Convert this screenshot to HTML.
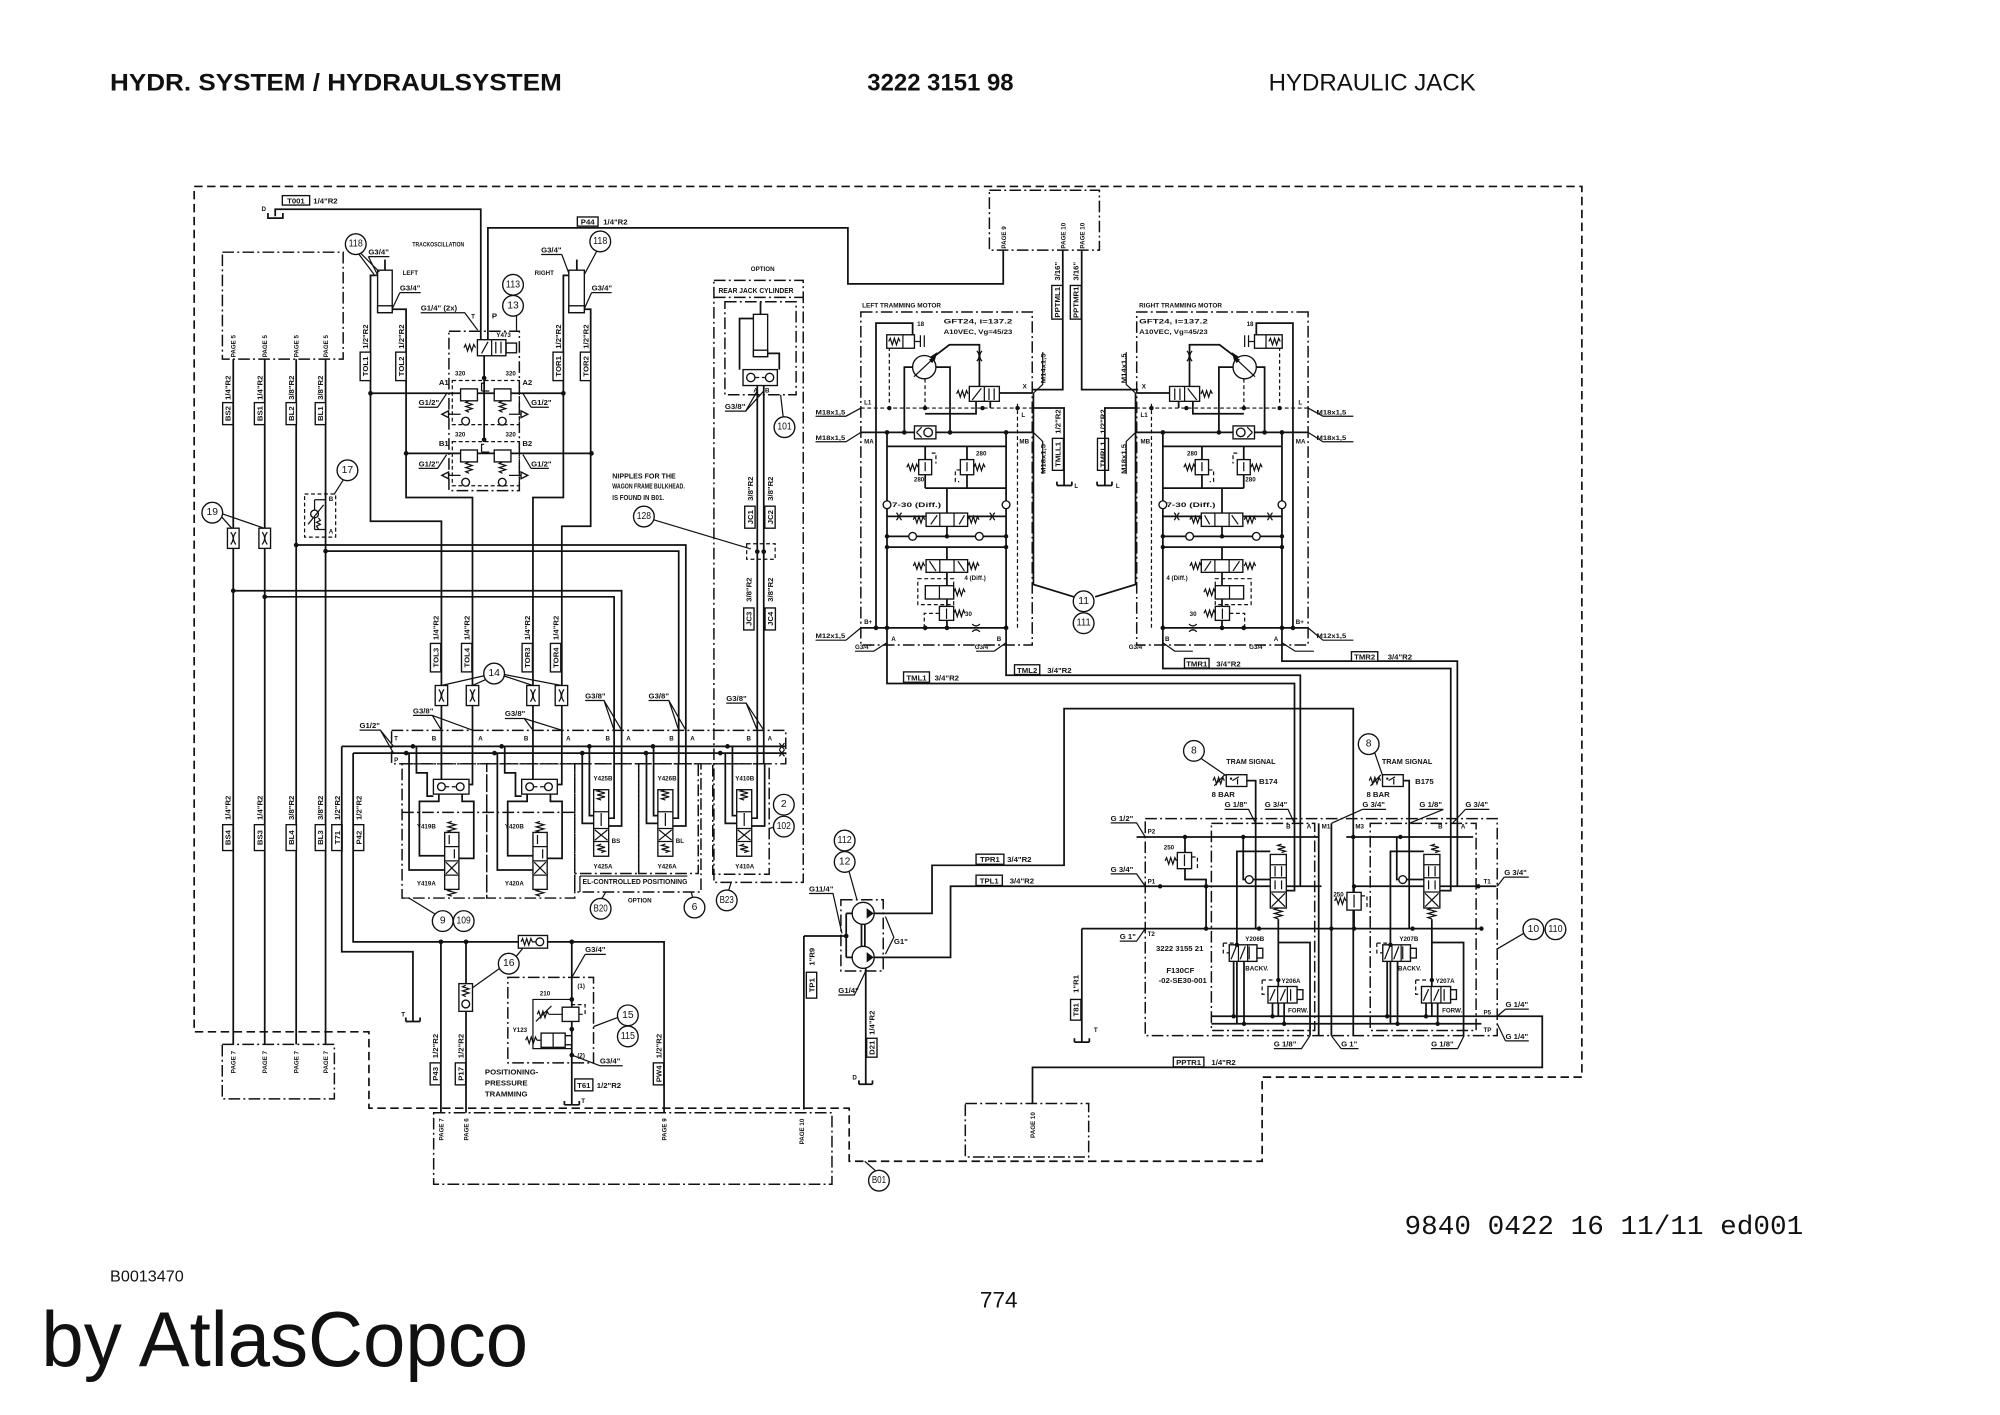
<!DOCTYPE html>
<html><head><meta charset="utf-8"><title>Hydraulic Jack</title>
<style>
html,body{margin:0;padding:0;background:#fff}
svg{display:block}
.l{fill:none;stroke:#111;stroke-width:1.35}
.t{fill:none;stroke:#111;stroke-width:0.95}
.d{fill:none;stroke:#111;stroke-width:1.3;stroke-dasharray:6.5 3.5}
.dd{fill:none;stroke:#111;stroke-width:1.15;stroke-dasharray:9 2.5 1.5 2.5}
.ds{fill:none;stroke:#111;stroke-width:0.95;stroke-dasharray:3 2}
.f{fill:#111;stroke:none}
.w{fill:#fff;stroke:#111;stroke-width:1.05}
text{font-family:"Liberation Sans",Arial,sans-serif;fill:#111}
.s{font-size:6px;font-weight:bold}
.xs{font-size:4.8px;font-weight:bold}
.c{font-size:8px;text-anchor:middle;dominant-baseline:central}
.m{text-anchor:middle}
</style></head><body>
<svg width="2000" height="1415" viewBox="0 0 1545 1093" preserveAspectRatio="none" xmlns="http://www.w3.org/2000/svg">
<rect x="0" y="0" width="1545" height="1093" fill="#fff"/>

<!-- ===== HEADER / FOOTER ===== -->
<text x="85" y="70" font-size="18.5" font-weight="bold" textLength="349" lengthAdjust="spacingAndGlyphs">HYDR. SYSTEM / HYDRAULSYSTEM</text>
<text x="670" y="70" font-size="18.5" font-weight="bold" textLength="113" lengthAdjust="spacingAndGlyphs">3222 3151 98</text>
<text x="980" y="70" font-size="18.5" textLength="160" lengthAdjust="spacingAndGlyphs">HYDRAULIC JACK</text>
<text x="1085" y="953" style="font-family:'Liberation Mono',monospace;font-size:21px" textLength="308" lengthAdjust="spacingAndGlyphs">9840 0422 16 11/11 ed001</text>
<text x="85" y="990" font-size="12" textLength="57" lengthAdjust="spacingAndGlyphs">B0013470</text>
<text x="757" y="1010" font-size="17" textLength="29" lengthAdjust="spacingAndGlyphs">774</text>
<text x="32" y="1055" font-size="60" textLength="376" lengthAdjust="spacingAndGlyphs">by AtlasCopco</text>

<!-- ===== OUTER BORDERS ===== -->
<path class="d" d="M150,144 H1222 V832 H975 V897 H656 V856 H285 V797 H150 Z"/>
<rect class="dd" x="764.3" y="147" width="85" height="46.2"/>
<rect class="dd" x="171.8" y="194.8" width="93.3" height="82.6"/>
<rect class="dd" x="171.7" y="806.7" width="86.6" height="42.1"/>
<rect class="dd" x="335" y="859.5" width="307.7" height="55.3"/>
<rect class="dd" x="745.7" y="852.4" width="95.3" height="41.3"/>

<!-- page labels -->
<g class="xs">
<text transform="translate(182,276) rotate(-90)">PAGE 5</text>
<text transform="translate(206.3,276) rotate(-90)">PAGE 5</text>
<text transform="translate(230.6,276) rotate(-90)">PAGE 5</text>
<text transform="translate(253.3,276) rotate(-90)">PAGE 5</text>
<text transform="translate(182,829) rotate(-90)">PAGE 7</text>
<text transform="translate(206.3,829) rotate(-90)">PAGE 7</text>
<text transform="translate(230.6,829) rotate(-90)">PAGE 7</text>
<text transform="translate(253.3,829) rotate(-90)">PAGE 7</text>
<text transform="translate(342.5,881) rotate(-90)">PAGE 7</text>
<text transform="translate(362,881) rotate(-90)">PAGE 6</text>
<text transform="translate(514.8,881) rotate(-90)">PAGE 9</text>
<text transform="translate(621,884) rotate(-90)">PAGE 10</text>
<text transform="translate(777,192) rotate(-90)">PAGE 9</text>
<text transform="translate(823,192) rotate(-90)">PAGE 10</text>
<text transform="translate(837.6,192) rotate(-90)">PAGE 10</text>
<text transform="translate(799.6,879) rotate(-90)">PAGE 10</text>
</g>

<!-- ===== TOP LEFT: T001, P44 ===== -->
<path class="l" d="M212.6,167 V161.6 H371.4 V262.4"/>
<path class="l" d="M207,164.5 V168.5 H218.5 V164.5"/>
<text class="xs" x="202" y="163">D</text>
<rect class="w" x="218.1" y="151.1" width="21.1" height="7.3"/>
<text class="s m" x="228.6" y="157.3">T001</text>
<text class="s" x="242" y="157.3">1/4&quot;R2</text>
<path class="l" d="M376.9,262.4 V176 H655 V219.3 H775 V193.2"/>
<rect class="w" x="446" y="167.6" width="16" height="7.1"/>
<text class="s m" x="454" y="173.6">P44</text>
<text class="s" x="466" y="173.6">1/4&quot;R2</text>

<!-- ===== TRACK OSCILLATION ===== -->
<text class="xs" x="318.6" y="190.5" textLength="40" lengthAdjust="spacingAndGlyphs">TRACKOSCILLATION</text>
<text class="xs" x="311" y="212.5">LEFT</text>
<text class="xs" x="413" y="212.5">RIGHT</text>
<path class="l" d="M297.4,200.5 V208.7"/>
<rect class="w" x="291.7" y="208.7" width="11.3" height="32.8"/>
<rect class="w" x="291.7" y="236.2" width="11.3" height="5.3"/>
<path class="l" d="M445.6,200.5 V208.7"/>
<rect class="w" x="439.4" y="208.7" width="12" height="32.8"/>
<rect class="w" x="439.4" y="236.2" width="12" height="5.3"/>
<g class="s">
<text x="284.6" y="196.5">G3/4&quot;</text>
<text x="308.9" y="224.5">G3/4&quot;</text>
<text x="418" y="195">G3/4&quot;</text>
<text x="457" y="224.5">G3/4&quot;</text>
</g>
<path class="t" d="M284.6,198.2 H300.8 M284.6,198.2 L292,213 M308.9,226 H325 M308.9,226 L303,238.5 M418,196.6 H434 M434,196.6 L439.4,211 M457,226 H472.5 M457,226 L451.4,238.5"/>
<path class="t" d="M277,196 L289,212 M279,196 L293,210 M461,194 L451.4,212"/>
<path class="l" d="M291.7,212.7 H286.2 V402.6 H341 V601.7"/>
<path class="l" d="M303,238.9 H313.7 V384.3 H365 V606 H360"/>
<path class="l" d="M439.4,212.7 H435.2 V384.3 H411.7 V601.7"/>
<path class="l" d="M451.4,238.9 H456.3 V406.5 H434 V606 H428"/>

<!-- Y473 valve block -->
<rect class="dd" x="346.8" y="255.9" width="54.4" height="123.1"/>
<rect class="w" x="368.8" y="262.4" width="22" height="12.4"/>
<path class="t" d="M379.8,262.4 V274.8 M372,273 L377,264 M383,264 V273 M387,264 V273"/>
<rect class="w" x="391" y="265" width="8" height="7.5"/>
<path class="t" d="M358.4,268.6 l1.2,-2.5 l1.6,5 l1.6,-5 l1.6,5 l1.6,-5 l1.4,2.5"/>
<text class="xs" x="383.4" y="260.5">Y473</text>
<text class="s" x="325" y="240">G1/4&quot; (2x)</text>
<path class="t" d="M325,241.6 H359 L369,255"/>
<text class="xs" x="364" y="246">T</text>
<text class="s" x="380" y="246">P</text>
<path class="l" d="M374,274.8 V339.7"/>
<circle class="f" cx="374" cy="292" r="1.8"/><circle class="f" cx="374" cy="339.7" r="1.8"/>
<path class="l" d="M286.2,303.8 H435.2 M313.7,350.2 H456.9"/>
<circle class="f" cx="286.2" cy="303.8" r="1.8"/><circle class="f" cx="435.2" cy="303.8" r="1.8"/>
<circle class="f" cx="313.7" cy="350.2" r="1.8"/><circle class="f" cx="456.9" cy="350.2" r="1.8"/>
<g id="cb">
<rect class="ds" x="349.4" y="293.9" width="51.8" height="34.1"/>
<rect class="w" x="355.8" y="300.4" width="13" height="9.2"/>
<rect class="w" x="381.8" y="300.4" width="12.9" height="9.2"/>
<path class="t" d="M362.3,309.6 l-2.5,1.2 l5,1.6 l-5,1.6 l5,1.6 l-5,1.6 l2.5,1.2 M388.2,309.6 l-2.5,1.2 l5,1.6 l-5,1.6 l5,1.6 l-5,1.6 l2.5,1.2"/>
<circle class="w" cx="359.7" cy="325.3" r="3"/><circle class="w" cx="388" cy="325.3" r="3"/>
<polygon class="w" points="341.3,320 346.5,317.4 346.5,322.6"/>
<polygon class="w" points="407.7,320 402.5,317.4 402.5,322.6"/>
<path class="t" d="M346.5,320 H355.8 M393.2,320 H402.5 M372,302 H378 M372,302 V296 H374"/>
<text class="xs" x="351.5" y="290">320</text><text class="xs" x="390.5" y="290">320</text>
<text class="s" x="323.4" y="313">G1/2&quot;</text><text class="s" x="410.3" y="313">G1/2&quot;</text>
<path class="t" d="M323.4,314.6 H338 L345,304 M410.3,314.6 H424 M410.3,314.6 L404,304"/>
</g>
<use href="#cb" transform="translate(0,47.2)"/>
<g class="s"><text x="339" y="297.5">A1</text><text x="403.5" y="297.5">A2</text><text x="339" y="344.7">B1</text><text x="403.5" y="344.7">B2</text></g>

<g>
<circle class="w" cx="274.8" cy="188.6" r="8"/><text class="c" x="274.8" y="188.6" textLength="11" lengthAdjust="spacingAndGlyphs">118</text>
<circle class="w" cx="463.7" cy="186.5" r="8"/><text class="c" x="463.7" y="186.5" textLength="11" lengthAdjust="spacingAndGlyphs">118</text>
<circle class="w" cx="396.3" cy="220" r="8"/><text class="c" x="396.3" y="220" textLength="11" lengthAdjust="spacingAndGlyphs">113</text>
<circle class="w" cx="396.3" cy="236.2" r="8"/><text class="c" x="396.3" y="236.2">13</text>
</g>
<path class="t" d="M399,244 V256"/>

<path class="l" d="M180.2,277.4 V806.7 M204.5,277.4 V806.7 M228.8,277.4 V806.7 M251.5,277.4 V806.7"/>
<path class="l" d="M228.8,421 H529.8 V590 M251.5,425.7 H524.3 V590 M180.2,456.3 H480.2 V590 M204.5,461 H474.4 V590"/>
<circle class="f" cx="228.8" cy="421" r="1.8"/><circle class="f" cx="251.5" cy="425.7" r="1.8"/>
<circle class="f" cx="180.2" cy="456.3" r="1.8"/><circle class="f" cx="204.5" cy="461" r="1.8"/>

<rect class="w" x="175.7" y="408" width="9" height="15.6"/>
<rect class="w" x="200" y="408" width="9" height="15.6"/>
<path class="t" d="M178.2,411 Q182,415.8 178.2,420.6 M182.2,411 Q178.4,415.8 182.2,420.6 M202.5,411 Q206.3,415.8 202.5,420.6 M206.5,411 Q202.7,415.8 206.5,420.6"/>
<circle class="w" cx="164" cy="396" r="8"/><text class="c" x="164" y="396">19</text>
<path class="t" d="M171,399 L179,408 M172,397 L204,408"/>
<rect class="ds" x="235.3" y="381.6" width="24" height="33.3"/>
<circle class="w" cx="243" cy="397" r="3"/>
<path class="t" d="M243,386 V394 M243,400 V409 M243,386 H251.5 M243,409 H251.5 M246,400 l1.5,2 l-3,1.5 l3,1.5 l-3,1.5 l1.5,2 M238,405 L250,390"/>
<text class="xs" x="254" y="387">B</text><text class="xs" x="254" y="412">A</text>
<circle class="w" cx="268.4" cy="363.3" r="8"/><text class="c" x="268.4" y="363.3">17</text>
<path class="t" d="M265,371 L258,382"/>

<!-- ===== REAR JACK CYLINDER ===== -->
<text class="xs" x="580" y="209.5">OPTION</text>
<rect class="dd" x="551.5" y="216.6" width="69" height="465"/>
<text class="s" x="555" y="226.5" textLength="58" lengthAdjust="spacingAndGlyphs">REAR JACK CYLINDER</text>
<path class="dd" d="M551.5,229.7 H620.5"/>
<rect class="dd" x="560" y="233.1" width="55" height="71.8"/>
<path class="l" d="M587.5,233.5 V242.8"/>
<rect class="w" x="582" y="242.8" width="11" height="32.7"/>
<rect class="w" x="582" y="270.5" width="11" height="5"/>
<path class="l" d="M582,246 H571.3 V285.5 M593,273 H602 V285.5"/>
<rect class="w" x="574" y="285.5" width="26.5" height="12.3"/>
<circle class="w" cx="580" cy="291.6" r="3.2"/><circle class="w" cx="594.5" cy="291.6" r="3.2"/>
<path class="ds" d="M583.5,291.6 H591"/>
<text class="xs" x="582" y="303">A</text><text class="xs" x="591" y="303">B</text>
<path class="l" d="M585,297.8 V590 M590,297.8 V590"/>
<text class="s" x="560" y="316">G3/8&quot;</text>
<path class="t" d="M560,317.6 H576 L585,302 M576,317.6 L590,302"/>
<circle class="w" cx="606" cy="330" r="8"/><text class="c" x="606" y="330" textLength="11" lengthAdjust="spacingAndGlyphs">101</text>
<path class="t" d="M605,322 L603,305"/>
<rect class="ds" x="576.8" y="420" width="22" height="12"/>
<circle class="f" cx="585" cy="426.1" r="1.8"/><circle class="f" cx="590" cy="426.1" r="1.8"/>
<circle class="w" cx="497.4" cy="399" r="8"/><text class="c" x="497.4" y="399" textLength="11" lengthAdjust="spacingAndGlyphs">128</text>
<path class="t" d="M505,401.5 L580,424"/>
<g class="s">
<text x="473" y="369.5" textLength="49" lengthAdjust="spacingAndGlyphs">NIPPLES FOR THE</text>
<text x="473" y="377.4" textLength="56" lengthAdjust="spacingAndGlyphs">WAGON FRAME BULKHEAD.</text>
<text x="473" y="386.2" textLength="40" lengthAdjust="spacingAndGlyphs">IS FOUND IN B01.</text>
</g>

<!-- ===== VERTICAL LABEL BOXES ===== -->
<g class="s">
<rect class="w" x="172" y="311" width="8" height="17"/><text class="m" transform="translate(178.2,319.5) rotate(-90)">BS2</text><text class="m" transform="translate(178.2,299.5) rotate(-90)">1/4&quot;R2</text>
<rect class="w" x="196.5" y="311" width="8" height="17"/><text class="m" transform="translate(202.7,319.5) rotate(-90)">BS1</text><text class="m" transform="translate(202.7,299.5) rotate(-90)">1/4&quot;R2</text>
<rect class="w" x="221" y="311" width="8" height="17"/><text class="m" transform="translate(227.2,319.5) rotate(-90)">BL2</text><text class="m" transform="translate(227.2,299.5) rotate(-90)">3/8&quot;R2</text>
<rect class="w" x="243.5" y="311" width="8" height="17"/><text class="m" transform="translate(249.7,319.5) rotate(-90)">BL1</text><text class="m" transform="translate(249.7,299.5) rotate(-90)">3/8&quot;R2</text>
<rect class="w" x="278.2" y="272" width="8" height="22"/><text class="m" transform="translate(284.4,283) rotate(-90)">TOL1</text><text class="m" transform="translate(284.4,260) rotate(-90)">1/2&quot;R2</text>
<rect class="w" x="305.7" y="272" width="8" height="22"/><text class="m" transform="translate(311.9,283) rotate(-90)">TOL2</text><text class="m" transform="translate(311.9,260) rotate(-90)">1/2&quot;R2</text>
<rect class="w" x="427.2" y="272" width="8" height="22"/><text class="m" transform="translate(433.4,283) rotate(-90)">TOR1</text><text class="m" transform="translate(433.4,260) rotate(-90)">1/2&quot;R2</text>
<rect class="w" x="448.3" y="272" width="8" height="22"/><text class="m" transform="translate(454.5,283) rotate(-90)">TOR2</text><text class="m" transform="translate(454.5,260) rotate(-90)">1/2&quot;R2</text>
<rect class="w" x="575.3" y="391" width="8" height="17"/><text class="m" transform="translate(581.5,399.5) rotate(-90)">JC1</text><text class="m" transform="translate(581.5,377.5) rotate(-90)">3/8&quot;R2</text>
<rect class="w" x="590.8" y="391" width="8" height="17"/><text class="m" transform="translate(597,399.5) rotate(-90)">JC2</text><text class="m" transform="translate(597,377.5) rotate(-90)">3/8&quot;R2</text>
<rect class="w" x="812.5" y="220.5" width="8.5" height="26"/><text class="m" transform="translate(818.8,233.5) rotate(-90)">PPTML1</text><text class="m" transform="translate(818.8,209.5) rotate(-90)">3/16&quot;</text>
<rect class="w" x="826.8" y="220.5" width="8.5" height="26"/><text class="m" transform="translate(833.1,233.5) rotate(-90)">PPTMR1</text><text class="m" transform="translate(833.1,209.5) rotate(-90)">3/16&quot;</text>
<rect class="w" x="813" y="338.6" width="8.5" height="24.7"/><text class="m" transform="translate(819.3,351) rotate(-90)">TMLL1</text><text class="m" transform="translate(819.3,325.6) rotate(-90)">1/2&quot;R2</text>
<rect class="w" x="847.8" y="338.6" width="8.5" height="24.7"/><text class="m" transform="translate(854.1,351) rotate(-90)">TMRL1</text><text class="m" transform="translate(854.1,325.6) rotate(-90)">1/2&quot;R2</text>
<rect class="w" x="332.5" y="497" width="8" height="22"/><text class="m" transform="translate(338.7,508) rotate(-90)">TOL3</text><text class="m" transform="translate(338.7,485) rotate(-90)">1/4&quot;R2</text>
<rect class="w" x="356.5" y="497" width="8" height="22"/><text class="m" transform="translate(362.7,508) rotate(-90)">TOL4</text><text class="m" transform="translate(362.7,485) rotate(-90)">1/4&quot;R2</text>
<rect class="w" x="403.3" y="497" width="8" height="22"/><text class="m" transform="translate(409.5,508) rotate(-90)">TOR3</text><text class="m" transform="translate(409.5,485) rotate(-90)">1/4&quot;R2</text>
<rect class="w" x="425.2" y="497" width="8" height="22"/><text class="m" transform="translate(431.4,508) rotate(-90)">TOR4</text><text class="m" transform="translate(431.4,485) rotate(-90)">1/4&quot;R2</text>
<rect class="w" x="574.5" y="469.6" width="8" height="17"/><text class="m" transform="translate(580.7,478) rotate(-90)">JC3</text><text class="m" transform="translate(580.7,455.5) rotate(-90)">3/8&quot;R2</text>
<rect class="w" x="591" y="469.6" width="8" height="17"/><text class="m" transform="translate(597.2,478) rotate(-90)">JC4</text><text class="m" transform="translate(597.2,455.5) rotate(-90)">3/8&quot;R2</text>
<rect class="w" x="172" y="637" width="8" height="20"/><text class="m" transform="translate(178.2,647) rotate(-90)">BS4</text><text class="m" transform="translate(178.2,624) rotate(-90)">1/4&quot;R2</text>
<rect class="w" x="196.5" y="637" width="8" height="20"/><text class="m" transform="translate(202.7,647) rotate(-90)">BS3</text><text class="m" transform="translate(202.7,624) rotate(-90)">1/4&quot;R2</text>
<rect class="w" x="221" y="637" width="8" height="20"/><text class="m" transform="translate(227.2,647) rotate(-90)">BL4</text><text class="m" transform="translate(227.2,624) rotate(-90)">3/8&quot;R2</text>
<rect class="w" x="243.5" y="637" width="8" height="20"/><text class="m" transform="translate(249.7,647) rotate(-90)">BL3</text><text class="m" transform="translate(249.7,624) rotate(-90)">3/8&quot;R2</text>
<rect class="w" x="256.3" y="637" width="8" height="20"/><text class="m" transform="translate(262.5,647) rotate(-90)">T71</text><text class="m" transform="translate(262.5,624) rotate(-90)">1/2&quot;R2</text>
<rect class="w" x="273" y="637" width="8" height="20"/><text class="m" transform="translate(279.2,647) rotate(-90)">P42</text><text class="m" transform="translate(279.2,624) rotate(-90)">1/2&quot;R2</text>
<rect class="w" x="332.3" y="821" width="8" height="17"/><text class="m" transform="translate(338.5,829.5) rotate(-90)">P43</text><text class="m" transform="translate(338.5,808) rotate(-90)">1/2&quot;R2</text>
<rect class="w" x="351.7" y="821" width="8" height="17"/><text class="m" transform="translate(357.9,829.5) rotate(-90)">P17</text><text class="m" transform="translate(357.9,808) rotate(-90)">1/2&quot;R2</text>
<rect class="w" x="504.7" y="821" width="8" height="17"/><text class="m" transform="translate(510.9,829.5) rotate(-90)">PW4</text><text class="m" transform="translate(510.9,808) rotate(-90)">1/2&quot;R2</text>
<rect class="w" x="622.9" y="751" width="8" height="20"/><text class="m" transform="translate(629.1,761) rotate(-90)">TP1</text><text class="m" transform="translate(629.1,739) rotate(-90)">1&quot;R9</text>
<rect class="w" x="669.5" y="802" width="8" height="14.6"/><text class="m" transform="translate(675.7,809.3) rotate(-90)">D21</text><text class="m" transform="translate(675.7,790) rotate(-90)">1/4&quot;R2</text>
<rect class="w" x="827" y="772" width="8" height="16"/><text class="m" transform="translate(833.2,780) rotate(-90)">T81</text><text class="m" transform="translate(833.2,760) rotate(-90)">1&quot;R1</text>
</g>

<!-- ===== LOWER LEFT MANIFOLD ===== -->
<g>
<rect class="w" x="336.2" y="529.5" width="9.6" height="15.5"/>
<rect class="w" x="360.2" y="529.5" width="9.6" height="15.5"/>
<rect class="w" x="406.9" y="529.5" width="9.6" height="15.5"/>
<rect class="w" x="428.9" y="529.5" width="9.6" height="15.5"/>
<path class="t" d="M339,532.5 Q342.6,537.3 339,542 M343,532.5 Q339.4,537.3 343,542 M363,532.5 Q366.6,537.3 363,542 M367,532.5 Q363.4,537.3 367,542 M409.7,532.5 Q413.3,537.3 409.7,542 M413.7,532.5 Q410.1,537.3 413.7,542 M431.7,532.5 Q435.3,537.3 431.7,542 M435.7,532.5 Q432.1,537.3 435.7,542"/>
<circle class="w" cx="381.7" cy="520.3" r="8"/><text class="c" x="381.7" y="520.3">14</text>
<path class="t" d="M374,522 L341,529.5 M375,525 L365,529.5 M389,522 L411.7,529.5 M389.5,521 L433.7,529.5"/>
</g>
<rect class="dd" x="302.5" y="564.2" width="304.5" height="25.8"/>
<path class="l" d="M264,576.5 H607 M272.8,581.7 H607"/>
<path class="t" d="M602,574 l4,5 M606,574 l-4,5 M602,579.2 l4,5 M606,579.2 l-4,5"/>
<text class="xs" x="304.5" y="572">T</text><text class="xs" x="304.5" y="588.5">P</text>
<g class="xs">
<text x="333.5" y="572">B</text><text x="369.5" y="572">A</text><text x="404.7" y="572">B</text><text x="437.3" y="572">A</text>
<text x="467.8" y="572">B</text><text x="483.8" y="572">A</text><text x="517" y="572">B</text><text x="533.2" y="572">A</text>
<text x="576.7" y="572">B</text><text x="593" y="572">A</text>
</g>
<g class="f">
<circle cx="319" cy="576.5" r="1.8"/><circle cx="387.5" cy="576.5" r="1.8"/><circle cx="455.3" cy="576.5" r="1.8"/><circle cx="504.4" cy="576.5" r="1.8"/><circle cx="562" cy="576.5" r="1.8"/>
<circle cx="313.8" cy="581.7" r="1.8"/><circle cx="382" cy="581.7" r="1.8"/><circle cx="449.8" cy="581.7" r="1.8"/><circle cx="499" cy="581.7" r="1.8"/><circle cx="556.4" cy="581.7" r="1.8"/>
</g>
<g class="s">
<text x="277.7" y="562.5">G1/2&quot;</text>
<text x="319" y="551">G3/8&quot;</text>
<text x="390" y="553">G3/8&quot;</text>
<text x="452" y="539.5">G3/8&quot;</text>
<text x="501" y="539.5">G3/8&quot;</text>
<text x="561" y="541.5">G3/8&quot;</text>
</g>
<path class="t" d="M277.7,564 H293.8 L304,576.5 M293.8,564 L304,581.7 M319,552.6 H334 L341,564 M334,552.6 L365,564 M390,555 H405 L411.7,564 M405,555 L434,564 M452,541.1 H466.6 L474.4,564 M466.6,541.1 L480.2,564 M501,541.1 H516.7 L524.3,564 M516.7,541.1 L529.8,564 M561,543.1 H576.4 L585,564 M576.4,543.1 L590,564"/>
<rect class="dd" x="310.6" y="590" width="65.4" height="103.7"/>
<rect class="dd" x="376" y="590" width="68" height="103.7"/>
<path class="dd" d="M310.6,627.5 H444"/>
<rect class="dd" x="444" y="590" width="49.4" height="84.7"/>
<rect class="dd" x="493.4" y="590" width="46" height="84.7"/>
<rect class="dd" x="444" y="590" width="97.5" height="99"/>
<rect class="dd" x="550.6" y="590" width="43.6" height="85.3"/>
<path class="t" d="M448,676.7 H531 M448,676.7 V689"/>
<text class="s" x="450" y="683" textLength="81" lengthAdjust="spacingAndGlyphs">EL-CONTROLLED POSITIONING</text>
<text class="xs" x="485" y="697">OPTION</text>
<g id="sec1">
<rect class="w" x="334.8" y="602" width="27.5" height="11.4"/>
<circle class="w" cx="341" cy="607.7" r="3"/><circle class="w" cx="355.5" cy="607.7" r="3"/>
<path class="ds" d="M344,607.7 H352.5"/>
<path class="l" d="M339,613.4 V619 H324 V661 H343.5 M357,613.4 V619 H366 V663 H354.5 M316,581.7 V672 H343.5 M321.7,576.5 V597 H330 V615 H334.8"/>
<rect class="w" x="343.5" y="643" width="11" height="44"/>
<path class="t" d="M343.5,654 H354.5 M343.5,665 H354.5 M343.5,676 H354.5 M344.5,666 L353.5,675 M353.5,666 L344.5,675 M347,645 V652 M351,656 V663"/>
<path class="t" d="M349,634.5 l-3,1 l6,1.6 l-6,1.6 l6,1.6 l-6,1.6 l3,1.1 M349,687 l-3,1 l6,1.6 l-6,1.6 l3,1"/>
</g>
<use href="#sec1" transform="translate(68.2,0)"/>
<g class="xs"><text x="322" y="640">Y419B</text><text x="322" y="684">Y419A</text><text x="390" y="640">Y420B</text><text x="390" y="684">Y420A</text></g>
<g id="sec3">
<rect class="w" x="458.6" y="610" width="11.6" height="51.4"/>
<path class="t" d="M458.6,627 H470.2 M458.6,640 H470.2 M458.6,650 H470.2 M459.5,641 L469.3,649 M469.3,641 L459.5,649 M464.4,628 V638"/>
<path class="t" d="M464.4,610 l-3,1 l6,1.5 l-6,1.5 l6,1.5 l-6,1.5 l3,1 M464.4,652 l-3,1 l6,1.5 l-6,1.5 l6,1.5 l-3,1"/>
<path class="l" d="M474.4,590 V632 H470.2 M480.2,590 V638 H470.2 M449.8,581.7 V636 H458.6 M455.3,576.5 V630 H458.6"/>
</g>
<use href="#sec3" transform="translate(49.6,0)"/>
<use href="#sec3" transform="translate(110.5,0)"/>
<g class="xs">
<text x="458.5" y="603">Y425B</text><text x="458.5" y="671">Y425A</text><text x="472.5" y="651">BS</text>
<text x="508" y="603">Y426B</text><text x="508" y="671">Y426A</text><text x="522" y="651">BL</text>
<text x="568" y="603">Y410B</text><text x="568" y="671">Y410A</text>
</g>
<circle class="w" cx="605.5" cy="621.6" r="8"/><text class="c" x="605.5" y="621.6">2</text>
<circle class="w" cx="605.5" cy="638.5" r="8"/><text class="c" x="605.5" y="638.5" textLength="11" lengthAdjust="spacingAndGlyphs">102</text>
<path class="t" d="M597.5,639 L594.2,640"/>
<circle class="w" cx="342" cy="711.5" r="8"/><text class="c" x="342" y="711.5">9</text>
<circle class="w" cx="358.2" cy="711.5" r="8"/><text class="c" x="358.2" y="711.5" textLength="11" lengthAdjust="spacingAndGlyphs">109</text>
<path class="t" d="M310.6,693.7 H316 L336,706"/>
<circle class="w" cx="464" cy="702" r="8"/><text class="c" x="464" y="702" textLength="11" lengthAdjust="spacingAndGlyphs">B20</text>
<path class="t" d="M465,694 L468,689"/>
<circle class="w" cx="536.5" cy="701" r="8"/><text class="c" x="536.5" y="701">6</text>
<path class="t" d="M535,693 L534,689"/>
<circle class="w" cx="561.4" cy="695.5" r="8"/><text class="c" x="561.4" y="695.5" textLength="11" lengthAdjust="spacingAndGlyphs">B23</text>
<path class="t" d="M563,687.5 L565,681"/>

<path class="l" d="M264,576.5 V735.2 H319 V789"/>
<path class="l" d="M313.5,789 H324.5 M313.5,789 V786 M324.5,789 V786"/>
<text class="xs" x="310" y="785">T</text>
<path class="l" d="M272.8,581.7 V727.5 H400.4 M423,727.5 H513 V859.5"/>
<g class="f"><circle cx="340.6" cy="727.5" r="1.8"/><circle cx="360" cy="727.5" r="1.8"/><circle cx="441.7" cy="727.5" r="1.8"/></g>
<path class="l" d="M340.6,727.5 V859.5 M360,727.5 V759.8 M360,781.2 V859.5"/>
<rect class="w" x="400.4" y="722.6" width="22.6" height="9.8"/>
<path class="t" d="M402.5,727.5 l1.2,-2.5 l1.6,5 l1.6,-5 l1.6,5 l1.6,-5 l1.2,2.5 M410.8,727.5 H414"/>
<circle class="w" cx="417" cy="727.5" r="3"/>
<rect class="w" x="354.5" y="759.8" width="10.5" height="21.4"/>
<path class="t" d="M359.8,761 l-2.5,1.2 l5,1.6 l-5,1.6 l5,1.6 l-5,1.6 l2.5,1.2"/>
<circle class="w" cx="359.8" cy="775.5" r="3"/>
<circle class="w" cx="393" cy="744.4" r="8"/><text class="c" x="393" y="744.4">16</text>
<path class="t" d="M399,738.5 L404,732.4 M386,748 L365,763"/>
<path class="l" d="M441.7,727.5 V853.4"/>
<path class="l" d="M436,853.4 H447.5 M436,853.4 V850.5 M447.5,853.4 V850.5"/>
<text class="xs" x="449" y="852">T</text>
<rect class="dd" x="392.3" y="755" width="66.2" height="66"/>
<path class="t" d="M441.7,772 H411.7 V810 H441.7"/>
<rect class="w" x="434.3" y="778" width="12.9" height="11"/>
<path class="ds" d="M447.2,783.5 H452 V776 H441.7"/>
<path class="t" d="M415,783.5 l1.2,-2.5 l1.6,5 l1.6,-5 l1.6,5 l1.6,-5 l1.2,2.5 M424,783.5 H434.3 M414,789 L426,777"/>
<rect class="w" x="418" y="798" width="18.6" height="11"/>
<rect class="w" x="436.6" y="800" width="5" height="7"/>
<path class="t" d="M427.3,798 V809 M406,803.5 l1.2,-2.5 l1.6,5 l1.6,-5 l1.6,5 l1.6,-5 l1.2,2.5 M414.8,803.5 H418"/>
<g class="f"><circle cx="441.7" cy="772" r="1.8"/><circle cx="441.7" cy="795" r="1.8"/><circle cx="441.7" cy="815" r="1.8"/></g>
<g class="xs"><text x="417" y="769">210</text><text x="396" y="797">Y123</text><text x="446" y="763">(1)</text><text x="446" y="817">(2)</text></g>
<text class="s" x="452" y="735.5">G3/4&quot;</text>
<path class="t" d="M452,737.2 H468 M452,737.2 L441.7,755"/>
<text class="s" x="463.4" y="821.5">G3/4&quot;</text>
<path class="t" d="M463.4,823.2 H481 M463.4,823.2 L441.7,815"/>
<circle class="w" cx="485" cy="784.3" r="8"/><text class="c" x="485" y="784.3">15</text>
<circle class="w" cx="485" cy="800.6" r="8"/><text class="c" x="485" y="800.6" textLength="11" lengthAdjust="spacingAndGlyphs">115</text>
<path class="t" d="M477,786 L458.5,793"/>
<rect class="w" x="444" y="833.4" width="14" height="9.2"/><text class="s m" x="451" y="840.3">T61</text>
<text class="s" x="461" y="840.3">1/2&quot;R2</text>
<g class="s"><text x="374.6" y="830">POSITIONING-</text><text x="374.6" y="838.5">PRESSURE</text><text x="374.6" y="847">TRAMMING</text></g>

<!-- ===== TOP PAGE LINES TO MOTORS ===== -->
<path class="l" d="M821,193.2 V301 H797.4 M835.6,193.2 V301 H879.2"/>

<!-- ===== LEFT TRAMMING MOTOR ===== -->
<g id="lm">
<rect class="dd" x="665" y="241" width="132.4" height="257.2"/>
<path class="ds" d="M687,263 V311.9 M786,311.9 V485"/>
<path class="l" d="M705,258.6 V249.6 H676.7 V485"/>
<rect class="w" x="685" y="258.6" width="21.4" height="10.4"/>
<path class="t" d="M697.5,258.6 V269 M686.5,263.8 l1.2,-2.5 l1.6,5 l1.6,-5 l1.6,5 l1.6,-5 l1.2,2.5 M706.4,263.8 H711 M711,259 V268 M714,259 V268"/>
<circle class="w" cx="714" cy="283.6" r="9"/>
<path class="t" d="M706,291 L722,276"/>
<polygon class="f" points="722,276 717.5,277.8 720.3,280.6"/>
<polygon class="f" points="718,276 724,272 722,279"/>
<path class="l" d="M722,275 L733.4,266.3 H756.6 V298.5"/>
<path class="t" d="M754.6,271 Q758,275 754.6,279 M758.6,271 Q755.2,275 758.6,279"/>
<path class="l" d="M705,283.6 H698.6 V334 M723,283.6 H733.9 V334"/>
<path class="ds" d="M714.6,292.6 V315.2"/>
<rect class="w" x="748.8" y="298.5" width="23.2" height="11.5"/>
<path class="t" d="M760.4,298.5 V310 M751,309 L758,300 M764,300 V309 M768,300 V309 M739,304.2 l1.2,-2.5 l1.6,5 l1.6,-5 l1.6,5 l1.6,-5 l1.2,2.5"/>
<path class="l" d="M772,303.6 H797.4"/>
<path class="l" d="M754,310 V319.6 H714.6 M765,310 V315.2"/>
<path class="ds" d="M665,315.2 H797.4"/>
<path class="l" d="M665,334 H797.4"/>
<g class="f"><circle cx="687" cy="315.2" r="1.7"/><circle cx="714.6" cy="315.2" r="1.7"/><circle cx="759" cy="315.2" r="1.7"/><circle cx="786" cy="315.2" r="1.7"/>
<circle cx="685.2" cy="334" r="1.8"/><circle cx="698.6" cy="334" r="1.8"/><circle cx="733.9" cy="334" r="1.8"/><circle cx="777.2" cy="334" r="1.8"/></g>
<rect class="w" x="706.4" y="329" width="16.6" height="10"/>
<circle class="w" cx="717" cy="334" r="3.3"/>
<path class="t" d="M708,334 L712,330 M708,334 L712,338"/>
<path class="l" d="M685.2,334 V485 M777.2,334 V485"/>
<path class="l" d="M685.2,344.8 H777.2 M714.7,377 H777.2 M685.2,398.9 H777.2 M685.2,414.3 H777.2 M685.2,422.6 H777.2 M665,485 H777.2"/>
<path class="l" d="M714.7,344.8 V355 M714.7,366.7 V377 M747,344.8 V355 M747,366.7 V377 M731.5,377 V396.3 M731.5,406.6 V414.3 M731.5,422.6 V432.3 M731.5,442.1 V452.4 M731.5,462.7 V468.4 M731.5,479.2 V485"/>
<rect class="w" x="709.7" y="355" width="10" height="11.7"/>
<rect class="w" x="741.9" y="355" width="10.3" height="11.7"/>
<path class="t" d="M700.5,361 l1.2,-2.5 l1.6,5 l1.6,-5 l1.6,5 l1.6,-5 l1.2,2.5 M752.2,361 l1.2,-2.5 l1.6,5 l1.6,-5 l1.6,5 l1.6,-5 l1.2,2.5 M714.7,357 V364 M747,357 V364"/>
<path class="ds" d="M719.7,350 H723 V358 M741.9,363 H738 V372 H741"/>
<circle class="w" cx="685.2" cy="389.9" r="3"/><circle class="w" cx="777.2" cy="389.9" r="3"/>
<rect class="w" x="715.4" y="396.3" width="32.1" height="10.3"/>
<path class="t" d="M726,396.3 V406.6 M737,396.3 V406.6 M719,405 L724,398 M741,405 L745,398 M705.5,401.5 l1.2,-2.5 l1.6,5 l1.6,-5 l1.6,5 l1.6,-5 l1.2,2.5 M747.5,401.5 l1.2,-2.5 l1.6,5 l1.6,-5 l1.6,5 l1.6,-5 l1.2,2.5"/>
<path class="t" d="M692.5,396 Q695.5,398.9 692.5,401.8 M696.5,396 Q693.5,398.9 696.5,401.8 M764.5,396 Q767.5,398.9 764.5,401.8 M768.5,396 Q765.5,398.9 768.5,401.8"/>
<circle class="w" cx="705" cy="414.3" r="3"/><circle class="w" cx="756.5" cy="414.3" r="3"/>
<g class="f"><circle cx="731.5" cy="414.3" r="1.7"/><circle cx="685.2" cy="414.3" r="1.7"/><circle cx="777.2" cy="414.3" r="1.7"/><circle cx="685.2" cy="422.6" r="1.7"/><circle cx="777.2" cy="422.6" r="1.7"/></g>
<rect class="w" x="715.4" y="432.3" width="32.1" height="9.8"/>
<path class="t" d="M726,432.3 V442.1 M737,432.3 V442.1 M718,433.5 L723,441 M740,433.5 L745,441 M705.5,437.2 l1.2,-2.5 l1.6,5 l1.6,-5 l1.6,5 l1.6,-5 l1.2,2.5 M747.5,437.2 l1.2,-2.5 l1.6,5 l1.6,-5 l1.6,5 l1.6,-5 l1.2,2.5"/>
<rect class="ds" x="709" y="447" width="27.7" height="20"/>
<rect class="w" x="714.8" y="452.4" width="21.9" height="10.3"/>
<path class="t" d="M725.7,452.4 V462.7 M736.7,457.5 l1.2,-2.5 l1.6,5 l1.6,-5 l1.6,5 l1.6,-5 l1.2,2.5"/>
<rect class="w" x="725.7" y="468.4" width="11" height="10.8"/>
<path class="t" d="M736.7,473.8 l1.2,-2.5 l1.6,5 l1.6,-5 l1.6,5 l1.6,-5 l1.2,2.5 M731.2,470 V478"/>
<path class="ds" d="M725.7,473.8 H714 V485"/>
<path class="t" d="M751,482 Q754,485 757,482 M751,488 Q754,485 757,488"/>
<g class="f"><circle cx="676.7" cy="485" r="1.8"/><circle cx="685.2" cy="485" r="1.8"/><circle cx="714.7" cy="485" r="1.8"/><circle cx="731.5" cy="485" r="1.8"/><circle cx="777.2" cy="485" r="1.8"/></g>
<path class="t" d="M630,321.5 H653.5 L665,315.2 M630,341.2 H653.5 L665,334 M630,494.5 H653.5 L665,485"/>
<path class="t" d="M660.5,503 H675 L685.2,496.5 M754,503 H768 L777.2,496.5"/>
<path class="l" d="M797.4,315.2 H822 V375"/>
<path class="l" d="M816.5,375 H828 M816.5,375 V372 M828,375 V372"/>
<path class="t" d="M798.3,303.6 L805.5,297 V272 M798.3,334 L805.5,341 V366"/>
<path class="l" d="M798.3,303.6 V451.5 L829.5,461"/>
</g>
<use href="#lm" transform="matrix(-1,0,0,1,1675.5,0)"/>

<g class="xs">
<text x="666" y="237.5" textLength="61" lengthAdjust="spacingAndGlyphs">LEFT TRAMMING MOTOR</text>
<text x="708.5" y="252">18</text>
<text x="729" y="250" textLength="53" lengthAdjust="spacingAndGlyphs">GFT24, i=137.2</text>
<text x="729" y="258" textLength="53" lengthAdjust="spacingAndGlyphs">A10VEC, Vg=45/23</text>
<text x="790" y="300">X</text>
<text x="667.5" y="312.5">L1</text><text x="789" y="322">L</text>
<text x="667.5" y="342.5">MA</text><text x="787.5" y="342.5">MB</text>
<text x="706" y="372">280</text><text x="754" y="352">280</text>
<text x="689" y="391.5" textLength="38" lengthAdjust="spacingAndGlyphs">7-30 (Diff.)</text>
<text x="745" y="448">4 (Diff.)</text>
<text x="745.5" y="476">30</text>
<text x="667.5" y="482">B+</text><text x="688.5" y="495">A</text><text x="770" y="495">B</text>
<text x="630" y="320" textLength="23" lengthAdjust="spacingAndGlyphs">M18x1,5</text>
<text x="630" y="339.7" textLength="23" lengthAdjust="spacingAndGlyphs">M18x1,5</text>
<text x="630" y="493" textLength="23" lengthAdjust="spacingAndGlyphs">M12x1,5</text>
<text x="660.5" y="501.5">G3/4&quot;</text><text x="753" y="501.5">G3/4&quot;</text>
<text transform="translate(807.5,296) rotate(-90)" textLength="23" lengthAdjust="spacingAndGlyphs">M14x1,5</text>
<text transform="translate(807.5,366) rotate(-90)" textLength="23" lengthAdjust="spacingAndGlyphs">M18x1,5</text>
<text x="830" y="377">L</text>
<text x="880" y="237.5" textLength="64" lengthAdjust="spacingAndGlyphs">RIGHT TRAMMING MOTOR</text>
<text x="880" y="250" textLength="53" lengthAdjust="spacingAndGlyphs">GFT24, i=137.2</text>
<text x="880" y="258" textLength="53" lengthAdjust="spacingAndGlyphs">A10VEC, Vg=45/23</text>
<text x="963" y="252">18</text>
<text x="882" y="300">X</text>
<text x="1003" y="312.5">L</text><text x="881" y="322">L1</text>
<text x="881" y="342.5">MB</text><text x="1001" y="342.5">MA</text>
<text x="917" y="352">280</text><text x="962" y="372">280</text>
<text x="901" y="391.5" textLength="38" lengthAdjust="spacingAndGlyphs">7-30 (Diff.)</text>
<text x="901" y="448">4 (Diff.)</text>
<text x="919" y="476">30</text>
<text x="1001" y="482">B+</text><text x="900" y="495">B</text><text x="984" y="495">A</text>
<text x="1017" y="320" textLength="23" lengthAdjust="spacingAndGlyphs">M18x1,5</text>
<text x="1017" y="339.7" textLength="23" lengthAdjust="spacingAndGlyphs">M18x1,5</text>
<text x="1017" y="493" textLength="23" lengthAdjust="spacingAndGlyphs">M12x1,5</text>
<text x="872" y="501.5">G3/4&quot;</text><text x="965" y="501.5">G3/4&quot;</text>
<text transform="translate(870,296) rotate(-90)" textLength="23" lengthAdjust="spacingAndGlyphs">M14x1,5</text>
<text transform="translate(870,366) rotate(-90)" textLength="23" lengthAdjust="spacingAndGlyphs">M18x1,5</text>
<text x="862" y="377">L</text>
</g>
<circle class="w" cx="837.1" cy="464.5" r="8"/><text class="c" x="837.1" y="464.5">11</text>
<circle class="w" cx="837.1" cy="481.4" r="8"/><text class="c" x="837.1" y="481.4" textLength="11" lengthAdjust="spacingAndGlyphs">111</text>

<path class="l" d="M685.2,485 V528 H1000 V688 H993"/>
<path class="l" d="M777.2,485 V521.6 H1004.5 V684.6"/>
<path class="l" d="M898.3,485 V516.4 H1120.7 V688 H1112.5"/>
<path class="l" d="M990.3,485 V510.7 H1125.8 V684.6"/>
<g class="s">
<rect class="w" x="698" y="519" width="20" height="8"/><text class="m" x="708" y="525.5">TML1</text><text x="722" y="525.5">3/4&quot;R2</text>
<rect class="w" x="783.7" y="513.5" width="19.5" height="7.5"/><text class="m" x="793.5" y="519.7">TML2</text><text x="809" y="519.7">3/4&quot;R2</text>
<rect class="w" x="915" y="508.6" width="19" height="7.4"/><text class="m" x="924.5" y="514.7">TMR1</text><text x="939.6" y="514.7">3/4&quot;R2</text>
<rect class="w" x="1044" y="503.4" width="20.3" height="7.3"/><text class="m" x="1054.2" y="509.5">TMR2</text><text x="1072" y="509.5">3/4&quot;R2</text>
</g>

<!-- ===== PUMPS 12 ===== -->
<rect class="dd" x="649.6" y="695" width="32.7" height="55"/>
<circle class="w" cx="666.8" cy="705.5" r="8.5"/><circle class="w" cx="666.8" cy="739.5" r="8.5"/>
<polygon class="f" points="675,705.5 669.5,701.5 669.5,709.5"/><polygon class="f" points="675,739.5 669.5,735.5 669.5,743.5"/>
<path class="l" d="M665.5,714 V731 M668.1,714 V731"/>
<path class="l" d="M621,723 H653.7 M653.7,705.5 V739.5 M653.7,705.5 H658.3 M653.7,739.5 H658.3"/>
<circle class="f" cx="653.7" cy="723" r="1.8"/>
<path class="l" d="M621,723 V857"/>
<path class="l" d="M675.3,705.5 H720 V668.4 H822 V547.4 H1045.4 V800"/>
<path class="l" d="M675.3,739.5 H734.3 V684.6 H1020.9"/>
<path class="l" d="M668.8,748 V837.5"/>
<path class="l" d="M663.5,837.5 H674 M663.5,837.5 V834.5 M674,837.5 V834.5"/>
<text class="xs" x="658.5" y="834">D</text>
<g class="s">
<text x="625" y="688.5">G11/4&quot;</text>
<text x="690.5" y="729">G1&quot;</text>
<text x="647.6" y="767">G1/4&quot;</text>
</g>
<path class="t" d="M625,690.2 H643.5 L650.4,721 M684,708 L690.5,724 L684,737 M647.6,768.6 H660 L668.8,750"/>
<circle class="w" cx="652.5" cy="649.3" r="8"/><text class="c" x="652.5" y="649.3" textLength="11" lengthAdjust="spacingAndGlyphs">112</text>
<circle class="w" cx="652.5" cy="665.8" r="8"/><text class="c" x="652.5" y="665.8">12</text>
<path class="t" d="M656,673.5 L662,695"/>
<g class="s">
<rect class="w" x="754" y="659.8" width="21.5" height="7.8"/><text class="m" x="764.7" y="666">TPR1</text><text x="778" y="666">3/4&quot;R2</text>
<rect class="w" x="754" y="676" width="20.3" height="8"/><text class="m" x="764.2" y="682.5">TPL1</text><text x="780" y="682.5">3/4&quot;R2</text>
</g>

<!-- ===== VALVE BLOCK 10 ===== -->
<rect class="dd" x="884.7" y="632.3" width="271.9" height="167.7"/>
<rect class="dd" x="935.8" y="636" width="79.8" height="160"/>
<rect class="dd" x="1058.5" y="636" width="81.8" height="160"/>
<path class="l" d="M878,646.5 H1018.7 M1040,646.5 H1138"/>
<path class="l" d="M1046,684.6 H1156"/>
<path class="l" d="M835.7,717.3 H1144.4"/>
<path class="l" d="M835.7,717.3 V805 M830,805 H841.5 M830,805 V802 M841.5,805 V802"/>
<text class="xs" x="845" y="797">T</text>
<path class="l" d="M935.8,785 H1191.4 V824.5 H797.6 V852.4 M935.8,790.8 H1144.4"/>
<path class="l" d="M1028.5,636 V800 M1018.7,636 V800"/>
<g class="f">
<circle cx="915.4" cy="646.5" r="1.7"/><circle cx="960.4" cy="646.5" r="1.7"/><circle cx="1045.4" cy="646.5" r="1.7"/><circle cx="1081.8" cy="646.5" r="1.7"/>
<circle cx="896.2" cy="684.6" r="1.7"/><circle cx="931.7" cy="684.6" r="1.7"/><circle cx="1046" cy="684.6" r="1.7"/><circle cx="1142" cy="684.6" r="1.7"/>
<circle cx="931.7" cy="717.3" r="1.7"/><circle cx="972.6" cy="717.3" r="1.7"/><circle cx="1028.5" cy="717.3" r="1.7"/><circle cx="1046" cy="717.3" r="1.7"/><circle cx="1091.2" cy="717.3" r="1.7"/><circle cx="1144.4" cy="717.3" r="1.7"/>
</g>
<path class="l" d="M915.4,646.5 V658.5 M915.4,671 V679.4 H931.7 V717.3"/>
<rect class="w" x="909.5" y="658.5" width="11" height="12.5"/>
<path class="t" d="M900,665 l1.2,-2.5 l1.6,5 l1.6,-5 l1.6,5 l1.6,-5 l1.2,2.5 M915,660 V669"/>
<path class="ds" d="M920.5,662 H925 V672"/>
<text class="xs" x="899" y="656">250</text>
<path class="l" d="M1046,684.6 V689.3 M1046,703 V717.3"/>
<rect class="w" x="1040.5" y="689.3" width="11" height="13.7"/>
<path class="t" d="M1031,696 l1.2,-2.5 l1.6,5 l1.6,-5 l1.6,5 l1.6,-5 l1.2,2.5 M1046,691 V701"/>
<path class="ds" d="M1051.5,692 H1056 V701"/>
<text class="xs" x="1030" y="692.5">250</text>
<g id="vs">
<path class="l" d="M960.4,646.5 V679.4 H962"/>
<circle class="w" cx="965" cy="679.4" r="3"/>
<path class="l" d="M968,679.4 H981.3"/>
<path class="l" d="M955.5,790.8 V657.6 H981.3"/>
<path class="l" d="M970,657.6 V717.3"/>
<rect class="w" x="981.3" y="660" width="12.4" height="41.4"/>
<path class="t" d="M981.3,668 H993.7 M981.3,678 H993.7 M981.3,689 H993.7 M982.3,690 L992.7,700.4 M992.7,690 L982.3,700.4 M985,669 V677 M990,669 V677 M985,680 V687 M990,680 V687"/>
<path class="t" d="M987.5,701.4 l-3,1 l6,1.6 l-6,1.6 l6,1.6 l-6,1.6 l3,1 M990,652 l-3,1 l6,1.5 l-6,1.5 l6,1.5 l-3,1"/>
<path class="l" d="M987.5,710 V785"/>
<rect class="w" x="949.6" y="729.8" width="21.4" height="12.8"/>
<path class="t" d="M956.7,729.8 V742.6 M963.8,729.8 V742.6 M951,741 L955,731 M958,741 L962,731 M965,731 V741"/>
<rect class="w" x="971" y="732.5" width="4.5" height="7.5"/>
<path class="ds" d="M945,728.5 V736 H949.6 M945,728.5 H955"/>
<path class="l" d="M953,742.6 V785 M961,742.6 V790.8"/>
<rect class="w" x="979.5" y="762" width="22.5" height="12.8"/>
<path class="t" d="M987,762 V774.8 M994.5,762 V774.8 M981,773 L985,764 M989,773 L993,764 M997,764 V773"/>
<rect class="w" x="1002" y="764.5" width="4.5" height="7.5"/>
<path class="ds" d="M975,757 V768 H979.5 M975,757 H985"/>
<path class="l" d="M983,774.8 V785 M992,774.8 V790.8 M987.5,728 H1012 V800"/>
<g class="f"><circle cx="953" cy="785" r="1.7"/><circle cx="961" cy="790.8" r="1.7"/><circle cx="983" cy="785" r="1.7"/><circle cx="992" cy="790.8" r="1.7"/><circle cx="987.5" cy="757" r="1.7"/><circle cx="955.5" cy="729.8" r="1.7"/></g>
</g>
<use href="#vs" transform="translate(118.6,0)"/>
<rect class="w" x="947.3" y="598.4" width="15.9" height="9.1"/>
<path class="t" d="M952,603 L957,600 M956,601.5 V606 M937,603 l1.2,-2.5 l1.6,5 l1.6,-5 l1.6,5 l1.6,-5 l1.2,2.5 M938,607 L946,598.5"/>
<circle class="f" cx="951" cy="601.5" r="0.9"/>
<path class="l" d="M963.2,603 H970 V657.6"/>
<rect class="w" x="1068" y="598.4" width="16" height="9.1"/>
<path class="t" d="M1072.7,603 L1077.7,600 M1076.7,601.5 V606 M1057.7,603 l1.2,-2.5 l1.6,5 l1.6,-5 l1.6,5 l1.6,-5 l1.2,2.5 M1058.7,607 L1066.7,598.5"/>
<circle class="f" cx="1071.7" cy="601.5" r="0.9"/>
<path class="l" d="M1084,603 H1088.6 V657.6"/>
<circle class="w" cx="922.3" cy="580" r="8"/><text class="c" x="922.3" y="580">8</text>
<circle class="w" cx="1057.3" cy="574.8" r="8"/><text class="c" x="1057.3" y="574.8">8</text>
<path class="t" d="M928,586 L947,599 M1062,581.5 L1068,599"/>
<g class="s">
<text x="947.3" y="590" textLength="38" lengthAdjust="spacingAndGlyphs">TRAM SIGNAL</text>
<text x="972.6" y="605.5">B174</text>
<text x="936" y="615.5">8 BAR</text>
<text x="1067.5" y="590" textLength="39" lengthAdjust="spacingAndGlyphs">TRAM SIGNAL</text>
<text x="1093.2" y="605.5">B175</text>
<text x="1055.6" y="615.5">8 BAR</text>
<text x="946" y="623.5">G 1/8&quot;</text>
<text x="977" y="623.5">G 3/4&quot;</text>
<text x="1052.4" y="623.5">G 3/4&quot;</text>
<text x="1096.5" y="623.5">G 1/8&quot;</text>
<text x="1132" y="623.5">G 3/4&quot;</text>
<text x="858" y="634">G 1/2&quot;</text>
<text x="858" y="673.5">G 3/4&quot;</text>
<text x="865" y="725.5">G 1&quot;</text>
<text x="1162" y="676">G 3/4&quot;</text>
<text x="1163" y="778">G 1/4&quot;</text>
<text x="1163" y="802.5">G 1/4&quot;</text>
<text x="984" y="808.5">G 1/8&quot;</text>
<text x="1036" y="808.5">G 1&quot;</text>
<text x="1105.5" y="808.5">G 1/8&quot;</text>
<text x="893" y="734.5">3222 3155 21</text>
<text x="901" y="751.5">F130CF</text>
<text x="895" y="759.5">-02-SE30-001</text>
</g>
<path class="t" d="M946,625.2 H964.5 L970,636 M977,625.2 H995 L1000,636 M1052.4,625.2 H1070.8 M1052.4,625.2 L1028.5,636 M1096.5,625.2 H1115 L1088.6,636 M1132,625.2 H1150.5 M1132,625.2 L1122,636 M858,635.6 H878 L884.7,646.5 M858,675 H878 L884.7,684.6 M865,727 H878 L884.7,717.3 M1162,677.5 H1181 M1162,677.5 L1156.6,684.6 M1163,779.5 H1181 M1163,779.5 L1156.6,785 M1163,804 H1181 M1163,804 L1156.6,790.8 M984,810 H1005.4 L1012,800 M1036,810 H1049.5 M1036,810 L1028.5,800 M1105.5,810 H1126 L1131,800"/>
<g class="xs">
<text x="993.5" y="640">B</text><text x="1009.5" y="640">A</text>
<text x="1021" y="640">M1</text><text x="1047" y="640">M3</text>
<text x="1111" y="640">B</text><text x="1128.5" y="640">A</text>
<text x="886.5" y="644">P2</text><text x="886.5" y="682.5">P1</text><text x="886.5" y="723">T2</text>
<text x="1146" y="682.5">T1</text><text x="1146" y="783.5">P5</text><text x="1146" y="797">TP</text>
<text x="962" y="727">Y206B</text><text x="962" y="749.5">BACKV.</text>
<text x="990" y="759.5">Y206A</text><text x="995" y="782">FORW.</text>
<text x="1081" y="727">Y207B</text><text x="1080" y="749.5">BACKV.</text>
<text x="1109" y="759.5">Y207A</text><text x="1114" y="782">FORW.</text>
</g>
<circle class="w" cx="1184.5" cy="717.8" r="8"/><text class="c" x="1184.5" y="717.8">10</text>
<circle class="w" cx="1201.6" cy="717.8" r="8"/><text class="c" x="1201.6" y="717.8" textLength="11" lengthAdjust="spacingAndGlyphs">110</text>
<path class="t" d="M1177,721 L1156.6,733"/>
<rect class="w" x="906.4" y="816.6" width="23.6" height="7.5"/>
<text class="s m" x="918.2" y="822.8">PPTR1</text>
<text class="s" x="935.8" y="822.8">1/4&quot;R2</text>

<circle class="w" cx="679" cy="912" r="8"/><text class="c" x="679" y="912" textLength="11" lengthAdjust="spacingAndGlyphs">B01</text>
<path class="t" d="M676,904 L668,897"/>
</svg>
</body></html>
